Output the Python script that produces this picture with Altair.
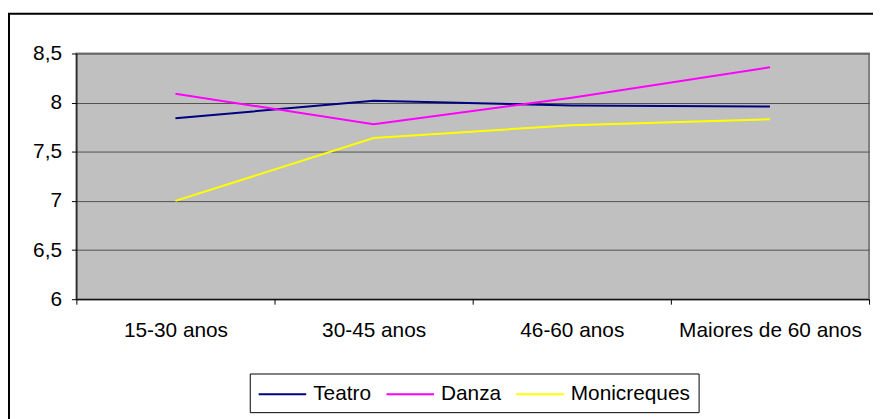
import altair as alt
import pandas as pd

categories = ["15-30 anos", "30-45 anos", "46-60 anos", "Maiores de 60 anos"]
series_names = ["Teatro", "Danza", "Monicreques"]
series_colors = ["#000080", "#FF00FF", "#FFFF00"]
teatro = [7.84, 8.02, 7.97, 7.96]
danza = [8.09, 7.78, 8.05, 8.36]
monicreques = [7.00, 7.64, 7.77, 7.83]
y_ticks = [6, 6.5, 7, 7.5, 8, 8.5]

rows = []
for name, vals in zip(series_names, [teatro, danza, monicreques]):
    for c, v in zip(categories, vals):
        rows.append({"cat": c, "serie": name, "value": v})
df = pd.DataFrame(rows)

FONT = "Liberation Sans"
FS = 21

lines = alt.Chart(df).mark_line(strokeWidth=2).encode(
    x=alt.X(
        "cat:N",
        sort=categories,
        bandPosition=0.5,
        scale=alt.Scale(type="band", paddingInner=0, paddingOuter=0),
        axis=alt.Axis(
            title=None,
            tickBand="extent",
            labelAngle=0,
            labelLimit=0,
            labelOverlap=False,
            domainColor="#000000",
            domainWidth=1,
            tickColor="#000000",
            tickSize=5,
            labelPadding=16,
            labelFontSize=FS,
            labelFont=FONT,
            labelColor="#000000",
            grid=False,
        ),
    ),
    y=alt.Y(
        "value:Q",
        scale=alt.Scale(domain=[6, 8.5], nice=False, zero=False),
        axis=alt.Axis(
            title=None,
            values=y_ticks,
            labelExpr="replace(toString(datum.value), '.', ',')",
            grid=True,
            gridColor="#505050",
            gridWidth=1,
            domainColor="#000000",
            domainWidth=1,
            tickColor="#000000",
            tickSize=5,
            labelPadding=10,
            labelFontSize=FS,
            labelFont=FONT,
            labelColor="#000000",
        ),
    ),
    color=alt.Color(
        "serie:N",
        sort=series_names,
        scale=alt.Scale(domain=series_names, range=series_colors),
        legend=alt.Legend(
            title=None,
            orient="none",
            legendX=175,
            legendY=323,
            direction="horizontal",
            symbolType="M-1,0H3",
            symbolSize=576,
            symbolStrokeWidth=2,
            labelFontSize=FS,
            labelFont=FONT,
            labelColor="#000000",
            strokeColor="#000000",
            fillColor="#FFFFFF",
            padding=8,
            columnPadding=11,
            labelOffset=30,
        ),
    ),
)

border = alt.Chart(alt.Data(values=[{}])).mark_rect(
    filled=False, stroke="#000000", strokeWidth=2
).encode(
    x=alt.value(-68), x2=alt.value(1200), y=alt.value(-40), y2=alt.value(1200)
)

chart = alt.layer(border, lines).properties(
    width=800,
    height=248,
    background="#FFFFFF",
    autosize=alt.AutoSizeParams(type="none"),
    padding={"left": 69, "top": 44, "right": 4, "bottom": 119},
).configure_view(
    fill="#C0C0C0", stroke="#808080", strokeWidth=2
)

chart.save("out.html", embed_options={"renderer": "svg", "actions": False})
